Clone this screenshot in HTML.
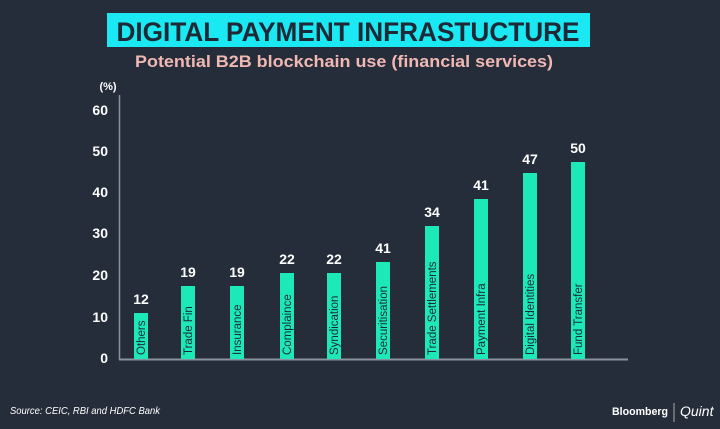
<!DOCTYPE html>
<html><head><meta charset="utf-8"><style>
body{margin:0;background:#252d3a;}
svg{display:block}
text{font-family:"Liberation Sans",sans-serif;}
</style></head><body>
<svg width="720" height="429" viewBox="0 0 720 429">
<rect width="720" height="429" fill="#252d3a"/>
<rect x="107" y="13" width="483" height="34" fill="#1ae8f2"/>
<text x="348" y="41" text-anchor="middle" font-size="27" font-weight="bold" fill="#1f2836" textLength="463" lengthAdjust="spacingAndGlyphs">DIGITAL PAYMENT INFRASTUCTURE</text>
<text x="344" y="67" text-anchor="middle" font-size="17" font-weight="bold" fill="#f0b8b3" textLength="418" lengthAdjust="spacingAndGlyphs">Potential B2B blockchain use (financial services)</text>
<text x="108" y="90" text-anchor="middle" font-size="11" font-weight="bold" fill="#fff">(%)</text>
<line x1="119.5" y1="95" x2="119.5" y2="360" stroke="#8a929e" stroke-width="1.5"/>
<line x1="119" y1="359.5" x2="628" y2="359.5" stroke="#8a929e" stroke-width="2"/>
<g font-size="14" font-weight="bold" fill="#fff" text-anchor="end">
<text x="108" y="363">0</text><text x="108" y="322">10</text><text x="108" y="280">20</text><text x="108" y="238">30</text><text x="108" y="197">40</text><text x="108" y="156">50</text><text x="108" y="115">60</text>
</g>
<g fill="#1de8b8">
<rect x="134" y="313" width="14" height="46"/>
<rect x="181" y="286" width="14" height="73"/>
<rect x="230" y="286" width="14" height="73"/>
<rect x="280" y="273" width="14" height="86"/>
<rect x="327" y="273" width="14" height="86"/>
<rect x="376" y="262" width="14" height="97"/>
<rect x="425" y="226" width="14" height="133"/>
<rect x="474" y="199" width="14" height="160"/>
<rect x="523" y="173" width="14" height="186"/>
<rect x="571" y="162" width="14" height="197"/>
</g>
<g font-size="14" font-weight="bold" fill="#fff" text-anchor="middle">
<text x="141" y="304">12</text><text x="188" y="277">19</text><text x="237" y="277">19</text><text x="287" y="264">22</text><text x="334" y="264">22</text><text x="383" y="253">41</text><text x="432" y="217">34</text><text x="481" y="190">41</text><text x="530" y="164">47</text><text x="578" y="153">50</text>
</g>
<g font-size="11.5" fill="#1f2836">
<text transform="translate(145,355) rotate(-90)">Others</text>
<text transform="translate(192,355) rotate(-90)">Trade Fin</text>
<text transform="translate(241,355) rotate(-90)">Insurance</text>
<text transform="translate(291,355) rotate(-90)">Complaince</text>
<text transform="translate(338,355) rotate(-90)">Syndication</text>
<text transform="translate(387,355) rotate(-90)">Securitisation</text>
<text transform="translate(436,355) rotate(-90)">Trade Settlements</text>
<text transform="translate(485,355) rotate(-90)">Payment Infra</text>
<text transform="translate(534,355) rotate(-90)">Digital Identities</text>
<text transform="translate(582,355) rotate(-90)">Fund Transfer</text>
</g>
<text x="10" y="414" font-size="10.5" font-style="italic" fill="#fff" textLength="150" lengthAdjust="spacingAndGlyphs">Source: CEIC, RBI and HDFC Bank</text>
<text x="612" y="415" font-size="11" font-weight="bold" fill="#fff" textLength="56" lengthAdjust="spacingAndGlyphs">Bloomberg</text>
<line x1="674" y1="403" x2="674" y2="422" stroke="#aaa" stroke-width="1"/>
<text x="680" y="416" font-size="14" font-style="italic" fill="#fff" font-family="Liberation Serif,serif">Quint</text>
</svg>
</body></html>
